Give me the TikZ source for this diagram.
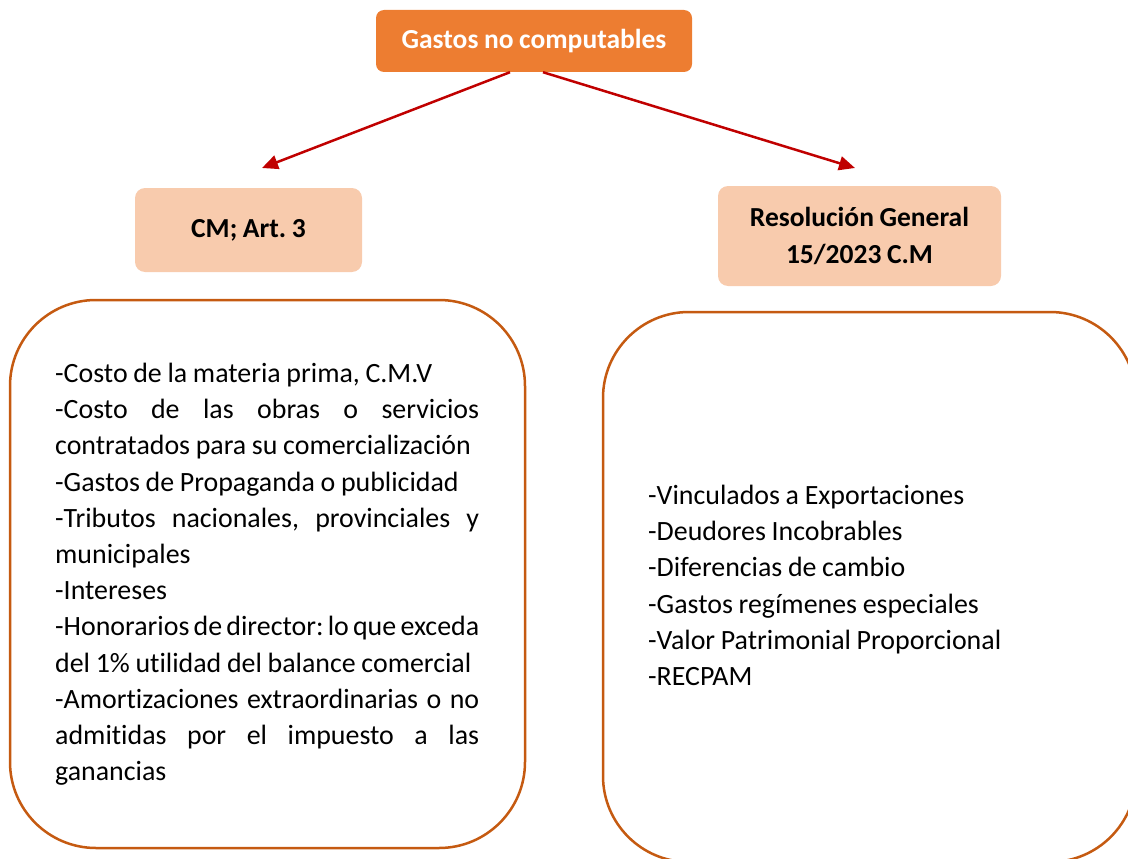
\documentclass[tikz,border=0pt]{standalone}
\usepackage{xcolor}
\definecolor{ed7d31}{HTML}{ED7D31}
\definecolor{f8cbad}{HTML}{F8CBAD}
\definecolor{c55a11}{HTML}{C55A11}
\definecolor{c00000}{HTML}{C00000}
\usepackage{fontspec}
\setmainfont{Carlito}[Ligatures=NoCommon, WordSpace=0.9]
\usepackage{tikz}
\usetikzlibrary{arrows.meta}
\setlength{\parindent}{0pt}
\frenchspacing

\begin{document}
\begin{tikzpicture}[x=1pt, y=-1pt,
    txt/.style={font=\fontsize{27.9}{36.2}\selectfont, inner sep=0pt},
    head/.style={txt, font=\fontsize{27.5}{36.2}\selectfont\bfseries, inner sep=0pt},
    bigbox/.style={draw=c55a11, line width=2.5pt, rounded corners=86pt},
    arr/.style={draw=c00000, line width=2.5pt, -{Triangle[length=16pt,width=14pt]}}]
                        \useasboundingbox (0, 0) rectangle (1128, 859);

                        \node (gastos) at (534, 41) [head, fill=ed7d31, text=white, rounded corners=8pt, minimum width=316pt, minimum height=62pt] {Gastos no computables};
                        \node (cm) at (248.5, 230) [head, fill=f8cbad, rounded corners=10pt, minimum width=227pt, minimum height=84pt] {CM; Art. 3};
                        \node (rg) at (859.5, 236) [head, fill=f8cbad, rounded corners=10pt, minimum width=283pt, minimum height=100pt, align=center] {Resolución General\\15/2023 C.M};

                        \node (izq) at (267.5, 574) [bigbox, minimum width=515pt, minimum height=548pt] {};
                        \node (der) at (869.5, 587) [bigbox, minimum width=533pt, minimum height=550pt] {};

                        \node (listaizq) at (55, 363) [txt, anchor=north west, text width=424pt, align=justify] {\tolerance=9999\hyphenpenalty=10000
                            -Costo de la materia prima, C.M.V\par
                            -Costo de las obras o servicios\linebreak contratados para su comercialización\par
                            -Gastos de Propaganda o publicidad\par
                            -Tributos nacionales, provinciales y\linebreak municipales\par
                            -Intereses\par
                            -Honorarios de director: lo que exceda\linebreak del 1\% utilidad del balance comercial\par
                            -Amortizaciones extraordinarias o no\linebreak admitidas por el impuesto a las\linebreak ganancias};
                        \node (listader) at (648, 485) [txt, anchor=north west, align=left] {-Vinculados a Exportaciones\\-Deudores Incobrables\\-Diferencias de cambio\\-Gastos regímenes especiales\\-Valor Patrimonial Proporcional\\-RECPAM};

                        \coordinate (fincm) at (262, 168);
                        \coordinate (finrg) at (855, 168);
                        \draw[arr] ([xshift=-24pt]gastos.south) to (fincm);
                        \draw[arr] ([xshift=9pt]gastos.south) to (finrg);
                    \end{tikzpicture}
\end{document}
